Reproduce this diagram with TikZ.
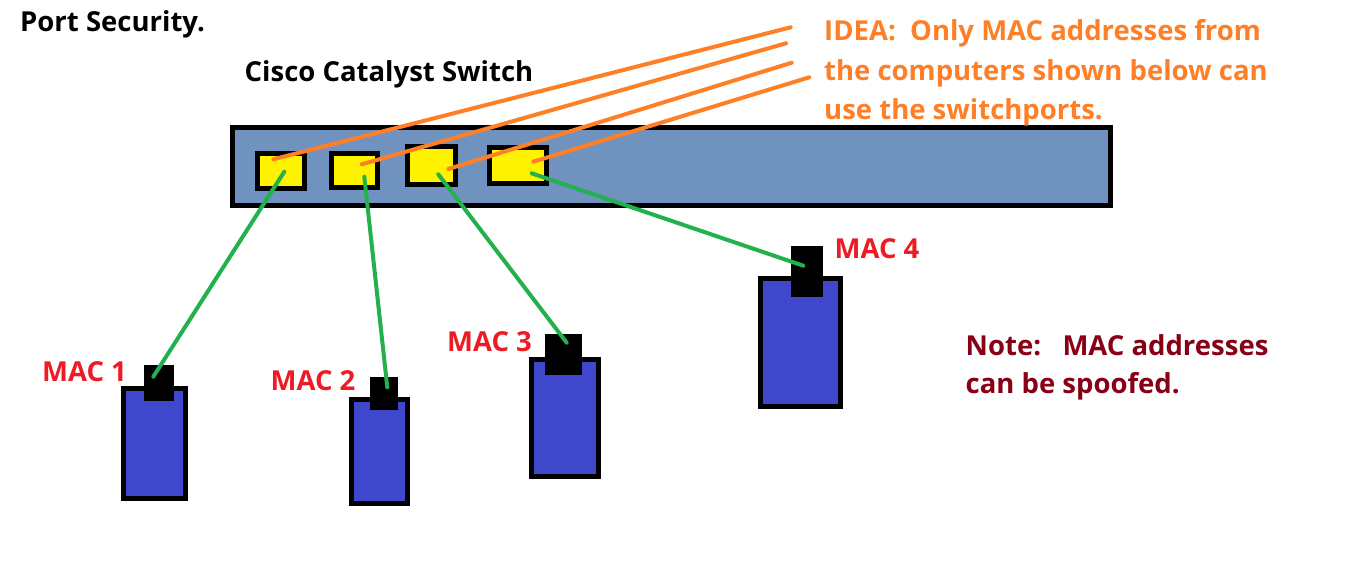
\documentclass[tikz,border=0pt]{standalone}
\usepackage{fontspec}
\setmainfont{Open Sans}
\definecolor{swfill}{HTML}{7092BE}
\definecolor{portyel}{HTML}{FFF200}
\definecolor{pcblue}{HTML}{3F48CC}
\definecolor{ideaor}{HTML}{FF7F27}
\definecolor{linkgr}{HTML}{22B14C}
\definecolor{macred}{HTML}{ED1C24}
\definecolor{notered}{HTML}{880015}
\tikzset{
  txt/.style={inner sep=0pt, anchor=base west, font=\fontsize{27.5}{39.3}\selectfont\bfseries},
  port/.style={draw=black, line width=5pt, fill=portyel, inner sep=0pt},
  pcbody/.style={draw=black, line width=5pt, fill=pcblue, inner sep=0pt},
  nic/.style={fill=black, draw=none, inner sep=0pt},
  idealine/.style={draw=ideaor, line width=4pt, line cap=round},
  link/.style={draw=linkgr, line width=4pt, line cap=round},
}
\begin{document}
\begin{tikzpicture}[x=1pt,y=-1pt]
\useasboundingbox (0,0) rectangle (1346,560);
\fill[white] (0,0) rectangle (1346,560);

% titles
\node[txt] (title) at (20,31.7) {Port Security.};
\node[txt] (swlabel) at (244.5,81.7) {Cisco Catalyst Switch};

% switch
\node[draw=black, line width=5pt, fill=swfill, inner sep=0pt,
      minimum width=878pt, minimum height=78pt] (switch) at (671.5,166.5) {};

% ports
\node[port, minimum width=46.7pt, minimum height=34.7pt] (port1) at (280.85,170.85) {};
\node[port, minimum width=45.7pt, minimum height=34pt]   (port2) at (354.65,170.5) {};
\node[port, minimum width=47.7pt, minimum height=37.7pt] (port3) at (431.35,165.35) {};
\node[port, minimum width=56.7pt, minimum height=35.7pt] (port4) at (518.15,165.35) {};

% computers
\node[pcbody, minimum width=61.7pt, minimum height=109.7pt] (pc1) at (154.35,443.35) {};
\node[nic, minimum width=29.7pt, minimum height=36pt] (nic1) at (159.15,383) {};
\node[pcbody, minimum width=55.7pt, minimum height=104pt] (pc2) at (379.65,451.2) {};
\node[nic, minimum width=27.7pt, minimum height=33.3pt] (nic2) at (383.85,393.35) {};
\node[pcbody, minimum width=67pt, minimum height=117.3pt] (pc3) at (565,417.85) {};
\node[nic, minimum width=37.3pt, minimum height=41pt] (nic3) at (563.65,354.5) {};
\node[pcbody, minimum width=80pt, minimum height=128.3pt] (pc4) at (800.8,342.35) {};
\node[nic, minimum width=32.3pt, minimum height=51.6pt] (nic4) at (807.15,271.5) {};

% connector end points
\coordinate (o1a) at (273.3,159.3);
\coordinate (o2a) at (361.7,164.3);
\coordinate (o3a) at (448.3,169);
\coordinate (o4a) at (533.3,161.7);
\coordinate (o1b) at (790.7,27.3);
\coordinate (o2b) at (786,43.3);
\coordinate (o3b) at (791.7,62.7);
\coordinate (o4b) at (809.3,77.3);
\coordinate (g1a) at (284.3,171.7);
\coordinate (g2a) at (364.3,176.7);
\coordinate (g3a) at (438.3,174.3);
\coordinate (g4a) at (531.7,173.3);
\coordinate (g1b) at (153.3,376.7);
\coordinate (g2b) at (387.3,387.3);
\coordinate (g3b) at (566.7,342.7);
\coordinate (g4b) at (803.3,265.7);

% links
\draw[link] (g1a) -- (g1b);
\draw[link] (g2a) -- (g2b);
\draw[link] (g3a) -- (g3b);
\draw[link] (g4a) -- (g4b);

% idea lines
\draw[idealine] (o1a) -- (o1b);
\draw[idealine] (o2a) -- (o2b);
\draw[idealine] (o3a) -- (o3b);
\draw[idealine] (o4a) -- (o4b);

% labels
\node[txt, text=ideaor, align=left] (idea) at (824,119.5)
  {IDEA:\ \ Only MAC addresses from\\the computers shown below can\\use the switchports.};
\node[txt, text=macred] (mac1) at (42,381.7) {MAC 1};
\node[txt, text=macred] (mac2) at (270.5,390.7) {MAC 2};
\node[txt, text=macred] (mac3) at (447,351.7) {MAC 3};
\node[txt, text=macred] (mac4) at (834.5,258.3) {MAC 4};
\node[txt, text=notered, align=left, font=\fontsize{27.5}{38}\selectfont\bfseries] (note) at (965.5,393)
  {Note:\ \ \ MAC addresses\\can be spoofed.};
\end{tikzpicture}
\end{document}
